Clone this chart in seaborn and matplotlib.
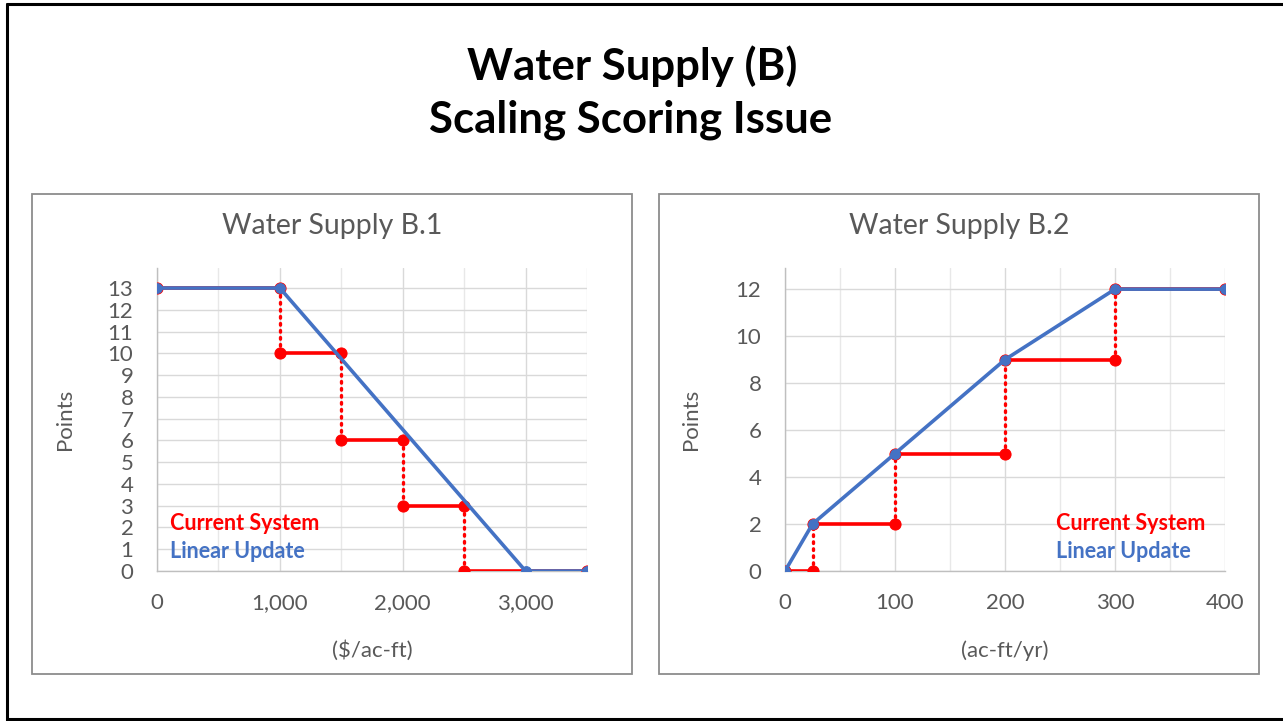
import matplotlib
matplotlib.use('Agg')
from matplotlib import pyplot as plt
from matplotlib.patches import Rectangle
from matplotlib.lines import Line2D
from matplotlib.ticker import FuncFormatter, MultipleLocator
import seaborn as sns
import pandas as pd

# ---------- data ----------
# B.1 : cost ($/ac-ft)
b1_linear_x = [0, 1000, 3000, 3500]
b1_linear_y = [13, 13, 0, 0]
b1_step_lo = [0, 1000, 1500, 2000, 2500]
b1_step_hi = [1000, 1500, 2000, 2500, 3500]
b1_step_pts = [13, 10, 6, 3, 0]

# B.2 : supply (ac-ft/yr)
b2_linear_x = [0, 25, 100, 200, 300, 400]
b2_linear_y = [0, 2, 5, 9, 12, 12]
b2_step_lo = [0, 25, 100, 200, 300]
b2_step_hi = [25, 100, 200, 300, 400]
b2_step_pts = [0, 2, 5, 9, 12]

RED = '#FF0000'
BLUE = '#4472C4'
GRAY = '#595959'

sns.set_theme(style='white')
plt.rcParams['font.family'] = ['Lato', 'DejaVu Sans']

W, H = 1283, 721
fig = plt.figure(figsize=(W / 100, H / 100), dpi=100)


def px(x0, y0, w, h):
    # pixel box (top-left origin) -> figure fraction
    return [x0 / W, 1 - (y0 + h) / H, w / W, h / H]


def step_frames(lo, hi, pts):
    flat, drop = [], []
    for i in range(len(pts)):
        flat.append({'seg': i, 'x': lo[i], 'y': pts[i]})
        flat.append({'seg': i, 'x': hi[i], 'y': pts[i]})
    for i in range(len(pts) - 1):
        drop.append({'seg': i, 'x': hi[i], 'y': pts[i]})
        drop.append({'seg': i, 'x': hi[i], 'y': pts[i + 1]})
    return pd.DataFrame(flat), pd.DataFrame(drop)


def draw_panel(ax, lin_x, lin_y, lo, hi, pts, xmax, xmajor, xminor,
               ymax, ystep, xlabel, comma, legend_x):
    flat, drop = step_frames(lo, hi, pts)
    sns.lineplot(data=drop, x='x', y='y', units='seg', estimator=None, sort=False,
                 color=RED, lw=2.4, linestyle=(0, (0.5, 1.6)),
                 dash_capstyle='round', ax=ax, zorder=3)
    sns.lineplot(data=flat, x='x', y='y', units='seg', estimator=None, sort=False,
                 color=RED, lw=2.6, marker='o', markersize=8,
                 markeredgecolor=RED, ax=ax, zorder=4)
    lin = pd.DataFrame({'x': lin_x, 'y': lin_y})
    sns.lineplot(data=lin, x='x', y='y', estimator=None, sort=False,
                 color=BLUE, lw=2.6, marker='o', markersize=7,
                 markeredgecolor=BLUE, ax=ax, zorder=5)

    ax.set_xlim(0, xmax)
    ax.set_ylim(0, ymax)
    ax.xaxis.set_major_locator(MultipleLocator(xmajor))
    ax.xaxis.set_minor_locator(MultipleLocator(xminor))
    ax.yaxis.set_major_locator(MultipleLocator(ystep))
    if comma:
        ax.xaxis.set_major_formatter(FuncFormatter(lambda v, p: f'{int(v):,}'))
    ax.grid(True, which='major', color='#D9D9D9', lw=1.0)
    ax.grid(True, which='minor', axis='x', color='#E8E8E8', lw=1.0)
    ax.set_axisbelow(True)
    for s in ['top', 'right']:
        ax.spines[s].set_visible(False)
    for s in ['left', 'bottom']:
        ax.spines[s].set_color('#BFBFBF')
        ax.spines[s].set_linewidth(1.0)
    ax.tick_params(axis='both', which='both', length=0, labelsize=16,
                   labelcolor=GRAY)
    ax.tick_params(axis='y', pad=17)
    ax.tick_params(axis='x', pad=16)
    ax.set_xlabel(xlabel, fontsize=16, color=GRAY)
    ax.set_ylabel('Points', fontsize=16, color=GRAY)
    ax.xaxis.set_label_coords(0.5, -0.228)
    ax.yaxis.set_label_coords(-0.19, 0.5)
    ax.set_facecolor('none')

    ax.text(legend_x, 0.158, 'Current System', transform=ax.transAxes,
            color=RED, fontsize=15.5, fontweight='bold', va='center', ha='left')
    ax.text(legend_x, 0.063, 'Linear Update', transform=ax.transAxes,
            color=BLUE, fontsize=15.5, fontweight='bold', va='center', ha='left')


# chart boxes
fig.add_artist(Rectangle((32 / W, 1 - 674 / H), 600 / W, 480 / H,
                         transform=fig.transFigure, fill=False,
                         edgecolor='#8C8C8C', lw=1.3))
fig.add_artist(Rectangle((659 / W, 1 - 674 / H), 600 / W, 480 / H,
                         transform=fig.transFigure, fill=False,
                         edgecolor='#8C8C8C', lw=1.3))

ax1 = fig.add_axes(px(157, 268, 430, 303))
draw_panel(ax1, b1_linear_x, b1_linear_y, b1_step_lo, b1_step_hi, b1_step_pts,
           3500, 1000, 500, 13.92, 1, '($/ac-ft)', True, 0.03)

ax2 = fig.add_axes(px(785, 268, 440, 303))
draw_panel(ax2, b2_linear_x, b2_linear_y, b2_step_lo, b2_step_hi, b2_step_pts,
           400, 100, 50, 12.9, 2, '(ac-ft/yr)', False, 0.616)

# titles
fig.text(632 / W, 1 - 80 / H, 'Water Supply (B)', ha='center', va='baseline',
         fontsize=31.5, fontweight='bold', color='black')
fig.text(631 / W, 1 - 133 / H, 'Scaling Scoring Issue', ha='center', va='baseline',
         fontsize=31.5, fontweight='bold', color='black')
fig.text(332 / W, 1 - 234 / H, 'Water Supply B.1', ha='center', va='baseline',
         fontsize=20.5, color=GRAY)
fig.text(959 / W, 1 - 234 / H, 'Water Supply B.2', ha='center', va='baseline',
         fontsize=20.5, color=GRAY)

# slide frame
fig.add_artist(Line2D([7 / W, 7 / W], [0, 1 - 4 / H], transform=fig.transFigure,
                      color='black', lw=2.2))
fig.add_artist(Line2D([7 / W, 1], [1 - 4 / H, 1 - 4 / H], transform=fig.transFigure,
                      color='black', lw=2.2))
fig.add_artist(Line2D([7 / W, 1], [1 - 719 / H, 1 - 719 / H], transform=fig.transFigure,
                      color='black', lw=2.2))

fig.savefig('out.png', dpi=100)
